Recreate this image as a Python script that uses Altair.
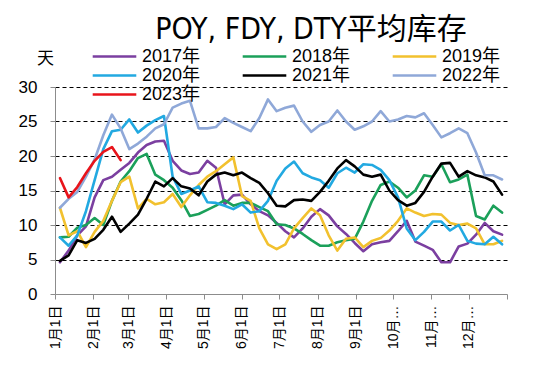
import altair as alt
import pandas as pd
import datetime as dt

years = ["2017年", "2018年", "2019年", "2020年", "2021年", "2022年", "2023年"]
colors = ["#7B3FA0", "#1BA05A", "#F2C12E", "#22A9E1", "#000000", "#8FA8D8", "#E8141B"]
widths = [2.6, 2.6, 2.6, 2.6, 2.6, 5, 5]

v2017 = [4.6, 6.3, 8.5, 9.8, 14, 16.5, 17, 18, 19, 20.5, 21.6, 22.1, 22.2, 19.3, 17.9, 17.4, 17.6,
         19.3, 18.3, 13, 14.3, 14.4, 13, 12, 11.4, 10.3, 9.1, 8.2, 9.5, 11.2, 12.3, 11.4, 9.8, 8.7,
         7.4, 6.2, 7.2, 7.5, 7.7, 9.1, 10.6, 7.6, 7.0, 6.4, 4.6, 4.6, 6.9, 7.3, 8.6, 10.3, 9.1, 8.6]
v2018 = [8.2, 8.3, 9.6, 10, 11, 10, 13.5, 16.3, 17.8, 19.7, 20.3, 17.3, 16.5, 15.4, 13.6, 11.3, 11.6,
         12.2, 12.8, 13.6, 12.8, 13.2, 13.2, 12.6, 12, 10.1, 10, 9.5, 8.7, 7.8, 7, 7, 7.5, 7.8,
         8, 10.5, 13.5, 15.8, 16.3, 15.4, 14, 15, 17.2, 17, 18.8, 16.2, 16.6, 17.3, 11.3, 10.8, 12.8, 11.8]
v2019 = [12.5, 8.5, 9.1, 6.8, 9, 10.6, 13.5, 16.2, 17, 12.4, 13.8, 13, 13.3, 14.5, 12.6, 14.3, 15.8,
         17, 17.8, 18.8, 19.8, 14.2, 13.5, 9.5, 7.2, 6.5, 7.2, 9.5, 11, 12.4, 11.4, 8.5, 6.3, 8,
         8.2, 6.8, 7.7, 8.1, 9.2, 10.6, 12.4, 11.8, 11.3, 11.6, 11.5, 10.3, 10, 10.2, 9.5, 7.2, 7.2, 7.7]
v2020 = [8.2, 7.0, 8.5, 12, 16.5, 21, 23.6, 23.8, 25.3, 23.4, 24.4, 25.2, 25.8, 17, 14.5, 15, 15.6,
         13.3, 13.2, 12.8, 12.3, 13, 11.8, 12, 13.5, 16.4, 18.2, 19.2, 17.5, 16.9, 16.5, 15.4, 17.5, 18.3,
         17.6, 18.8, 18.7, 18, 16.5, 14, 9.5, 7.8, 9, 10.5, 10.5, 9.2, 10, 7.7, 7.3, 7.2, 8.3, 7.2]
v2021 = [4.8, 5.6, 7.8, 7.4, 8, 9.3, 11.2, 9, 10.2, 11.5, 13.8, 16.3, 15.6, 16.8, 15.6, 15.3, 14.3,
         16.3, 17.3, 17.6, 17.2, 17.6, 16.8, 16.1, 14.6, 12.8, 12.7, 13.6, 13.7, 13.5, 14.8, 16.4, 18.2, 19.4,
         18.5, 17.3, 17, 17.3, 15, 13.6, 12.8, 13.2, 14.8, 17, 18.9, 19, 17, 17.8, 17.2, 16.9, 16.3, 14.4]
v2022 = [12.5, 13.8, 14.8, 17, 19.5, 23, 26, 24, 21, 21.8, 22.8, 24, 24.6, 27, 27.6, 28, 24,
         24, 24.2, 25.5, 24.8, 24.2, 23.6, 25.5, 28.2, 26.5, 27, 27.3, 25, 23.5, 24.5, 25, 26.6, 25,
         23.8, 24.3, 25, 26.5, 25, 25.3, 25.8, 25.6, 26.2, 24.5, 22.7, 23.3, 24, 23.3, 20.5, 17.2, 17.2, 16.6]
v2023 = [16.8, 14, 15.5, 17.5, 19.3, 20.6, 21.3, 19.4]

series = [v2017, v2018, v2019, v2020, v2021, v2022, v2023]
start = dt.date(2021, 1, 5)
rows = []
for name, vals in zip(years, series):
    for i, v in enumerate(vals):
        rows.append({"year": name, "date": (start + dt.timedelta(days=7 * i)).isoformat(), "value": v})
df = pd.DataFrame(rows)

month_ticks = [alt.DateTime(year=2021, month=m, date=1, utc=True) for m in range(1, 13)] + \
              [alt.DateTime(year=2022, month=1, date=1, utc=True)]

FONT = "Liberation Sans, Noto Sans CJK SC"

chart = alt.Chart(df).mark_line(strokeCap="round", strokeJoin="round").encode(
    x=alt.X("date:T",
            scale=alt.Scale(type="utc",
                            domain=[alt.DateTime(year=2021, month=1, date=1, utc=True),
                                    alt.DateTime(year=2022, month=1, date=1, utc=True)]),
            axis=alt.Axis(values=month_ticks, title=None, grid=False, labelAngle=270,
                          labelAlign="right", labelBaseline="middle",
                          labelExpr="utcyear(datum.value) > 2021 ? '' : (utcmonth(datum.value) < 9 ? (utcmonth(datum.value)+1) + '月1日' : (utcmonth(datum.value)+1) + '月…')",
                          labelFontSize=14, labelPadding=6, tickSize=5, labelFont=FONT,
                          domainColor="#8c8c8c", tickColor="#8c8c8c", labelColor="#000")),
    y=alt.Y("value:Q", scale=alt.Scale(domain=[0, 30], nice=False),
            axis=alt.Axis(values=[0, 5, 10, 15, 20, 25, 30], title="天", titleAngle=0,
                          titleX=-10, titleY=-29, titleAlign="center", titleBaseline="middle",
                          titleFontSize=17, titleFontWeight="normal", titleFont=FONT,
                          grid=True, gridColor="#000", gridDash=[4, 3], gridWidth=1,
                          gridOpacity={"condition": {"test": "datum.value === 0", "value": 0}, "value": 1},
                          labelFontSize=17, labelPadding=13, tickSize=5, labelFont=FONT,
                          domainColor="#8c8c8c", tickColor="#8c8c8c", labelColor="#000")),
    color=alt.Color("year:N", scale=alt.Scale(domain=years, range=colors), title=None),
    strokeWidth=alt.StrokeWidth("year:N", scale=alt.Scale(domain=years, range=widths), title=None),
).properties(
    width=452,
    height=207,
    autosize=alt.AutoSizeParams(type="none"),
    padding={"left": 47, "top": 79, "right": 35, "bottom": 70},
    title=alt.TitleParams("POY, FDY, DTY平均库存", font="DejaVu Sans Condensed, Noto Sans CJK SC",
                          fontSize=30, fontWeight="normal", anchor="middle", dx=30, dy=23, offset=1,
                          baseline="alphabetic", color="#000"),
).configure_view(stroke=None).configure_legend(
    orient="none", legendX=36, legendY=-40, columns=3, direction="horizontal",
    symbolType="stroke", symbolSize=1900, labelFontSize=18, labelFont=FONT, labelColor="#000",
    columnPadding=40, rowPadding=0, clipHeight=19, labelOffset=4,
)

chart.save("out.html", embed_options={"renderer": "svg", "actions": False})
